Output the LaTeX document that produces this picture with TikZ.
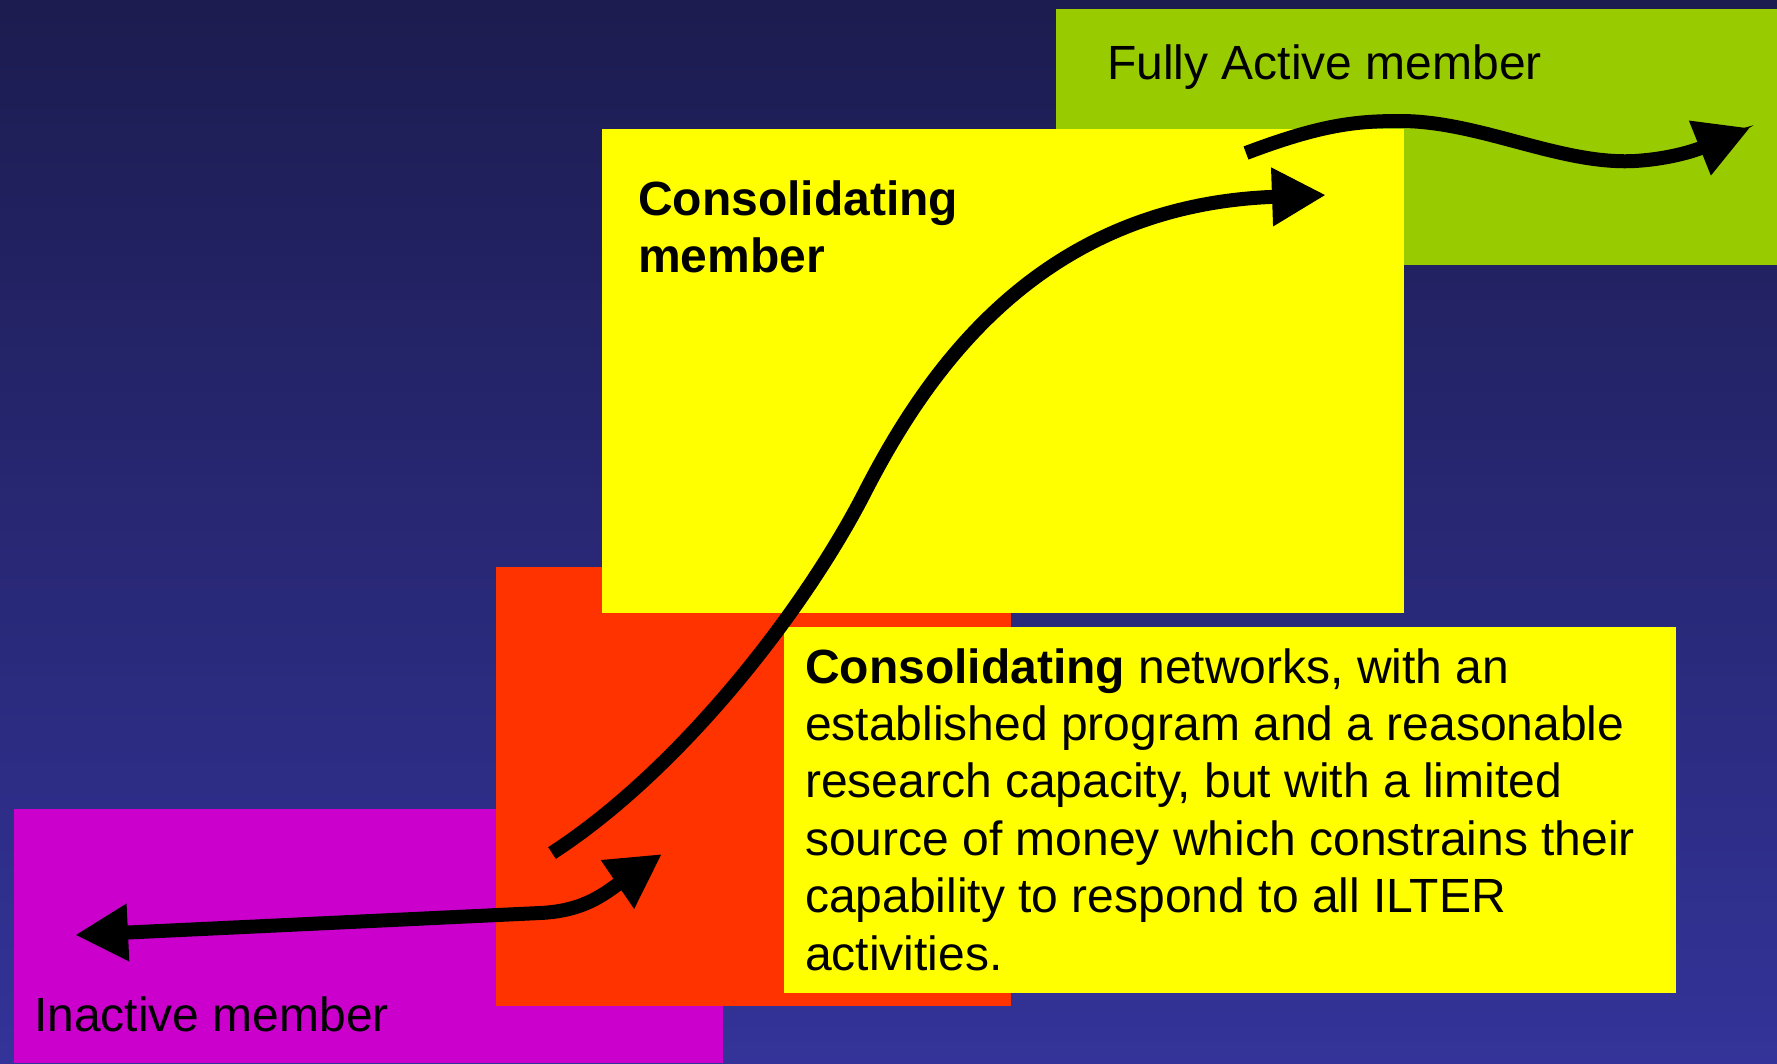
\documentclass[tikz,border=0pt]{standalone}
\usepackage{fontspec}
\setmainfont{Liberation Sans}
\usetikzlibrary{arrows.meta}
\definecolor{bgtop}{RGB}{28,28,80}
\definecolor{bgbottom}{RGB}{51,51,153}
\definecolor{fullgreen}{RGB}{153,204,0}
\definecolor{consyellow}{RGB}{255,255,0}
\definecolor{startred}{RGB}{255,51,0}
\definecolor{inactmagenta}{RGB}{204,0,204}

\begin{document}
\begin{tikzpicture}[x=1pt, y=-1pt,
                    panel/.style={anchor=north west, inner sep=0pt, outer sep=0pt},
                    boxtext/.style={anchor=base west, inner sep=0pt, align=left,
                                    font=\fontsize{48}{57.4}\selectfont},
                    flow/.style={line width=14pt, -{Triangle[length=54pt, width=55pt]}}]
  \shade[top color=bgtop, bottom color=bgbottom] (0,0) rectangle (1777,1063);
  \useasboundingbox (0,0) rectangle (1777,1063);

  \node[panel, fill=fullgreen, minimum width=721pt, minimum height=256pt] (full) at (1056,9) {};
  \node[panel, fill=inactmagenta, minimum width=709pt, minimum height=254pt] (inactive) at (14,809) {};
  \node[panel, fill=startred, minimum width=515pt, minimum height=439pt] (starting) at (496,567) {};
  \node[panel, fill=consyellow, minimum width=802pt, minimum height=484pt] (cons) at (602,129) {};
  \node[panel, fill=consyellow, minimum width=892pt, minimum height=366pt] (note) at (784,627) {};

  \node[boxtext] (fulltext) at (1107,79) {Fully Active member};
  \node[boxtext, font=\fontsize{48}{57}\selectfont\bfseries] (constext) at (638,272) {Consolidating\\member};
  \node[boxtext] (inacttext) at (34,1031) {Inactive member};
  \node[boxtext] (notetext) at (805,970) {\textbf{Consolidating} networks, with an\\
    established program and a reasonable\\
    research capacity, but with a limited\\
    source of money which constrains their\\
    capability to respond to all ILTER\\
    activities.};

  \coordinate (risestart) at (552,853);
  \coordinate (risetip) at (1326,195);
  \coordinate (backtip) at (75,935);
  \coordinate (hoptip) at (662,854);
  \coordinate (wavestart) at (1246,153);
  \coordinate (wavetip) at (1750,128);

  \draw[flow] (risestart) .. controls (680,770) and (805,610) .. (866,490)
    .. controls (928,370) and (1040,205) .. (risetip);
  \draw[flow, {Triangle[length=53pt, width=54pt]}-{Triangle[length=54pt, width=55pt]}]
    (backtip) -- (540,913) .. controls (585,911) and (605,893) .. (hoptip);
  \draw[flow] (wavestart) .. controls (1320,125) and (1355,121) .. (1400,121)
    .. controls (1480,121) and (1560,165) .. (1635,161)
    .. controls (1685,158) and (1715,142) .. (wavetip);
\end{tikzpicture}
\end{document}
